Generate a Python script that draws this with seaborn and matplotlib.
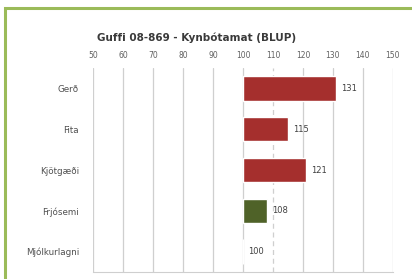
import matplotlib
matplotlib.use("Agg")
import matplotlib.pyplot as plt
import matplotlib.patches as mpatches
from matplotlib.ticker import FuncFormatter, MultipleLocator
import seaborn as sns
import pandas as pd

# --- gögn ---
eiginleikar = ["Gerð", "Fita", "Kjötgæði", "Frjósemi", "Mjólkurlagni"]
gildi = [131, 115, 121, 108, 100]
litir = ["#A52F2D", "#A52F2D", "#A52F2D", "#4F6228", "#A52F2D"]
titill = "Guffi 08-869 - Kynbótamat (BLUP)"
grunnur = 100
strikalina = 110  # brotin lína í grindinni

df = pd.DataFrame({"eiginleiki": eiginleikar, "gildi": gildi})
df["frávik"] = df["gildi"] - grunnur

sns.set_style("white")
plt.rcParams["font.family"] = ["DejaVu Sans"]

fig = plt.figure(figsize=(4.12, 2.79), dpi=100)
# grænn rammi (sést bara efst og vinstra megin)
fig.patches.append(mpatches.Rectangle((0.012, -0.05), 1.1, 1.021, transform=fig.transFigure,
                                      fill=False, edgecolor="#9BBB59", linewidth=2.2))
ax = fig.add_axes([0.2257, 0.025, 0.728, 0.731])

sns.barplot(data=df, y="eiginleiki", x="frávik", hue="eiginleiki", palette=litir,
            legend=False, width=0.6, ax=ax, orient="h", saturation=1)

ax.set_xlim(-50, 50)
ax.set_ylim(4.5, -0.5)
ax.xaxis.set_major_locator(MultipleLocator(10))
ax.xaxis.set_major_formatter(FuncFormatter(lambda v, p: f"{v + grunnur:.0f}"))
ax.xaxis.tick_top()
ax.tick_params(axis="x", length=0, pad=6, labelsize=5.5, labelcolor="#606060")
ax.tick_params(axis="y", length=0, pad=10, labelsize=6.3, labelcolor="#505050")
ax.set_xlabel("")
ax.set_ylabel("")

ax.grid(axis="x", color="#CFCFCF", linewidth=0.9)
ax.set_axisbelow(True)
for loc, gl in zip(ax.get_xticks(), ax.get_xgridlines()):
    if round(loc + grunnur) == strikalina:
        gl.set_linestyle((0, (4, 3)))
for s in ["top", "right", "left"]:
    ax.spines[s].set_visible(False)
ax.spines["bottom"].set_color("#CFCFCF")

# gildismerki
stikur = sorted(ax.patches, key=lambda b: b.get_y())
for bar, g in zip(stikur, gildi):
    ax.annotate(f"{g}", (bar.get_x() + bar.get_width(), bar.get_y() + bar.get_height() / 2),
                xytext=(4, 0), textcoords="offset points", va="center", ha="left",
                fontsize=6, color="#404040")

fig.text(0.235, 0.853, titill, fontsize=7.5, fontweight="bold", color="#3A3A3A")

fig.savefig("out.png", dpi=100)
